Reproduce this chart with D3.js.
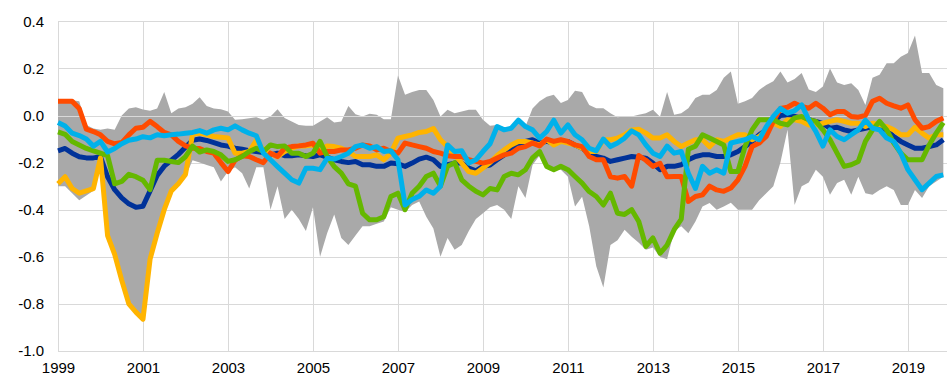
<!DOCTYPE html>
<html>
<head>
<meta charset="utf-8">
<script src="https://cdn.jsdelivr.net/npm/d3@7"></script>
<style>
  html, body { margin: 0; padding: 0; background: #fff; }
  svg { display: block; font-family: "Liberation Sans", Arial, sans-serif; }
</style>
</head>
<body>
<svg id="chart" width="947" height="378"></svg>
<script>
// Observations every two months, starting January 1999
const startYear = 1999;
const stepMonths = 2;

const xTickYears = [1999, 2001, 2003, 2005, 2007, 2009, 2011, 2013, 2015, 2017, 2019];
const yTickValues = [-1.0, -0.8, -0.6, -0.4, -0.2, 0.0, 0.2, 0.4];
const yTickLabels = ["-1.0", "-0.8", "-0.6", "-0.4", "-0.2", "0.0", "0.2", "0.4"];

// Range across countries (upper and lower bound)
const rangeMax = [
  0.065, 0.065, 0.065, 0.06, -0.04, -0.055,
  -0.06, -0.055, -0.06, 0.0, 0.03, 0.035,
  0.025, 0.02, 0.03, 0.10, 0.01, 0.03,
  0.035, 0.05, 0.078, 0.04, 0.03, 0.027,
  0.017, -0.018, -0.016, -0.012, -0.007, -0.018,
  -0.004, 0.027, -0.011, -0.025, -0.04, -0.044,
  -0.044, -0.025, -0.007, -0.03, -0.025, 0.04,
  0.005, -0.004, 0.007, 0.003, -0.016, -0.016,
  0.17, 0.088, 0.1, 0.108, 0.108, 0.066,
  -0.004, 0.024, 0.01, 0.017, 0.024, 0.024,
  -0.018, -0.044, -0.04, -0.05, -0.05, -0.01,
  -0.05, 0.03, 0.06, 0.08, 0.088, 0.053,
  0.066, 0.105, 0.1, 0.045, 0.031, 0.031,
  0.01, -0.007, -0.004, -0.004, 0.003, 0.01,
  0.024, -0.005, 0.1, 0.003, 0.01, 0.031,
  0.074, 0.088, 0.088, 0.108, 0.16, 0.187,
  0.05, 0.06, 0.074, 0.108, 0.13, 0.145,
  0.187, 0.14, 0.155, 0.18, 0.11, 0.1,
  0.123, 0.2, 0.14, 0.13, 0.137, 0.108,
  0.045, 0.16, 0.173, 0.222, 0.222, 0.25,
  0.265, 0.34, 0.18, 0.18, 0.13, 0.116
];
const rangeMin = [
  -0.30, -0.30, -0.33, -0.36, -0.34, -0.32,
  -0.20, -0.52, -0.60, -0.71, -0.81, -0.84,
  -0.87, -0.62, -0.51, -0.41, -0.33, -0.30,
  -0.26, -0.19, -0.20, -0.21, -0.22, -0.28,
  -0.19, -0.22, -0.245, -0.31, -0.22, -0.22,
  -0.40, -0.30, -0.44, -0.40, -0.44, -0.49,
  -0.39, -0.60, -0.50, -0.42, -0.52, -0.55,
  -0.51, -0.47, -0.47, -0.46, -0.45, -0.39,
  -0.40, -0.41, -0.38, -0.365, -0.43, -0.48,
  -0.60, -0.52, -0.57, -0.55, -0.49, -0.44,
  -0.415, -0.39, -0.38, -0.40, -0.44, -0.30,
  -0.35, -0.21, -0.17, -0.215, -0.23, -0.23,
  -0.26, -0.386, -0.345, -0.47, -0.64, -0.73,
  -0.55, -0.53, -0.485, -0.515, -0.54, -0.57,
  -0.56, -0.60, -0.61, -0.49, -0.47, -0.50,
  -0.45, -0.386, -0.372, -0.40, -0.386, -0.37,
  -0.40, -0.40, -0.40, -0.36, -0.33, -0.30,
  -0.20, -0.06, -0.38, -0.30, -0.285, -0.23,
  -0.26, -0.337, -0.287, -0.273, -0.337, -0.26,
  -0.33, -0.337, -0.316, -0.30, -0.316, -0.38,
  -0.38, -0.316, -0.35, -0.30, -0.28, -0.26
];

const darkBlueValues = [
  -0.15, -0.14, -0.16, -0.175, -0.18, -0.18,
  -0.175, -0.26, -0.315, -0.35, -0.375, -0.39,
  -0.385, -0.32, -0.255, -0.215, -0.19, -0.165,
  -0.135, -0.105, -0.10, -0.106, -0.115, -0.125,
  -0.13, -0.139, -0.143, -0.149, -0.153, -0.157,
  -0.167, -0.16, -0.171, -0.171, -0.167, -0.171,
  -0.174, -0.167, -0.177, -0.188, -0.195, -0.20,
  -0.195, -0.209, -0.209, -0.216, -0.216, -0.202,
  -0.205, -0.216, -0.202, -0.185, -0.177, -0.188,
  -0.216, -0.209, -0.202, -0.202, -0.223, -0.235,
  -0.216, -0.21, -0.188, -0.167, -0.139, -0.125,
  -0.11, -0.103, -0.117, -0.11, -0.117, -0.11,
  -0.11, -0.125, -0.139, -0.16, -0.174, -0.181,
  -0.195, -0.188, -0.181, -0.174, -0.177, -0.181,
  -0.202, -0.23, -0.216, -0.216, -0.209, -0.188,
  -0.174, -0.167, -0.167, -0.174, -0.174, -0.167,
  -0.153, -0.132, -0.11, -0.082, -0.061, -0.025,
  0.0, 0.003, -0.004, -0.011, -0.018, -0.025,
  -0.035, -0.054, -0.05, -0.061, -0.068, -0.061,
  -0.054, -0.047, -0.047, -0.061, -0.089, -0.11,
  -0.125, -0.139, -0.139, -0.132, -0.125, -0.103
];
const yellowValues = [
  -0.29, -0.26, -0.31, -0.33, -0.32, -0.31,
  -0.18, -0.51, -0.59, -0.70, -0.80, -0.835,
  -0.865, -0.61, -0.50, -0.40, -0.32, -0.29,
  -0.25, -0.08, -0.075, -0.082, -0.089, -0.092,
  -0.095, -0.16, -0.16, -0.153, -0.105, -0.145,
  -0.16, -0.175, -0.153, -0.139, -0.129, -0.129,
  -0.125, -0.15, -0.129, -0.132, -0.139, -0.153,
  -0.174, -0.174, -0.174, -0.167, -0.188, -0.16,
  -0.096, -0.089, -0.082, -0.072, -0.068, -0.055,
  -0.103, -0.132, -0.167, -0.202, -0.238, -0.245,
  -0.223, -0.2, -0.17, -0.146, -0.125, -0.11,
  -0.11, -0.117, -0.125, -0.103, -0.125, -0.11,
  -0.117, -0.125, -0.139, -0.153, -0.153, -0.103,
  -0.103, -0.096, -0.082, -0.061, -0.058, -0.075,
  -0.096, -0.096, -0.082, -0.11, -0.132, -0.117,
  -0.103, -0.103, -0.132, -0.103, -0.11, -0.096,
  -0.082, -0.082, -0.103, -0.089, -0.061, -0.033,
  -0.047, -0.018, -0.018, -0.025, -0.04, -0.04,
  -0.033, -0.025, -0.018, -0.025, -0.033, -0.033,
  -0.047, -0.033, -0.04, -0.047, -0.061, -0.082,
  -0.082, -0.05, -0.075, -0.096, -0.082, -0.082
];
const orangeValues = [
  0.06, 0.06, 0.06, 0.03, -0.058, -0.068,
  -0.082, -0.11, -0.12, -0.115, -0.082, -0.054,
  -0.05, -0.025, -0.047, -0.072, -0.082, -0.11,
  -0.129, -0.139, -0.14, -0.153, -0.16, -0.2,
  -0.238, -0.19, -0.171, -0.174, -0.188, -0.2,
  -0.16, -0.174, -0.139, -0.132, -0.129, -0.125,
  -0.118, -0.16, -0.153, -0.153, -0.146, -0.146,
  -0.139, -0.125, -0.129, -0.146, -0.139, -0.153,
  -0.16, -0.117, -0.125, -0.132, -0.139, -0.153,
  -0.16, -0.171, -0.174, -0.174, -0.188, -0.195,
  -0.202, -0.195, -0.181, -0.167, -0.16, -0.139,
  -0.132, -0.117, -0.129, -0.1, -0.11, -0.103,
  -0.11, -0.125, -0.132, -0.174, -0.188, -0.188,
  -0.26, -0.266, -0.259, -0.30, -0.17, -0.19,
  -0.216, -0.203, -0.26, -0.259, -0.259, -0.365,
  -0.344, -0.337, -0.30, -0.316, -0.322, -0.308,
  -0.273, -0.216, -0.132, -0.117, -0.089, -0.025,
  0.03, 0.035, 0.052, 0.038, 0.031, 0.052,
  0.031, 0.003, 0.017, 0.017, -0.004, -0.007,
  0.0, 0.06, 0.073, 0.052, 0.041, 0.031,
  0.045, -0.018, -0.054, -0.047, -0.025, -0.011
];
const greenValues = [
  -0.07, -0.08, -0.11, -0.125, -0.14, -0.15,
  -0.16, -0.17, -0.29, -0.28, -0.25, -0.26,
  -0.275, -0.315, -0.19, -0.19, -0.195, -0.2,
  -0.175, -0.13, -0.155, -0.146, -0.153, -0.167,
  -0.195, -0.188, -0.174, -0.153, -0.139, -0.153,
  -0.125, -0.132, -0.129, -0.16, -0.16, -0.174,
  -0.16, -0.11, -0.174, -0.217, -0.245, -0.29,
  -0.30, -0.415, -0.443, -0.443, -0.43, -0.344,
  -0.33, -0.40, -0.33, -0.30, -0.259, -0.245,
  -0.30, -0.216, -0.20, -0.273, -0.30, -0.322,
  -0.337, -0.31, -0.316, -0.259, -0.245, -0.252,
  -0.23, -0.18, -0.153, -0.216, -0.23, -0.216,
  -0.23, -0.259, -0.287, -0.323, -0.344, -0.38,
  -0.33, -0.415, -0.42, -0.40, -0.45, -0.556,
  -0.52, -0.585, -0.55, -0.485, -0.44, -0.143,
  -0.13, -0.082, -0.096, -0.11, -0.125, -0.238,
  -0.238, -0.132, -0.061, -0.018, -0.018, -0.018,
  -0.033, -0.04, -0.01, -0.004, -0.018, -0.025,
  -0.061, -0.103, -0.16, -0.216, -0.209, -0.195,
  -0.11, -0.061, -0.025, -0.061, -0.117, -0.16,
  -0.188, -0.188, -0.188, -0.125, -0.075, -0.03
];
const cyanValues = [
  -0.03, -0.045, -0.075, -0.085, -0.10, -0.13,
  -0.11, -0.155, -0.14, -0.12, -0.105, -0.10,
  -0.09, -0.095, -0.082, -0.086, -0.082, -0.079,
  -0.075, -0.072, -0.064, -0.075, -0.061, -0.054,
  -0.061, -0.044, -0.061, -0.075, -0.086, -0.16,
  -0.188, -0.217, -0.245, -0.273, -0.287, -0.224,
  -0.224, -0.23, -0.182, -0.185, -0.174, -0.16,
  -0.132, -0.125, -0.139, -0.132, -0.153, -0.15,
  -0.188, -0.38, -0.357, -0.343, -0.316, -0.33,
  -0.30, -0.125, -0.153, -0.15, -0.202, -0.188,
  -0.153, -0.12, -0.047, -0.061, -0.054, -0.02,
  -0.047, -0.061, -0.096, -0.068, -0.02, -0.075,
  -0.04, -0.082, -0.103, -0.139, -0.15, -0.1,
  -0.132, -0.117, -0.096, -0.065, -0.082, -0.125,
  -0.16, -0.174, -0.13, -0.16, -0.153, -0.245,
  -0.31, -0.216, -0.245, -0.23, -0.245, -0.117,
  -0.11, -0.103, -0.089, -0.103, -0.047, -0.004,
  0.03, 0.01, 0.02, 0.045, -0.018, -0.068,
  -0.13, -0.061, -0.089, -0.103, -0.082, -0.061,
  -0.02, -0.054, -0.061, -0.096, -0.11, -0.16,
  -0.23, -0.273, -0.315, -0.287, -0.259, -0.252
];

const lineSeries = [
  { values: darkBlueValues, color: "#003299" },
  { values: yellowValues,   color: "#FFB400" },
  { values: orangeValues,   color: "#FF4B00" },
  { values: greenValues,    color: "#65B800" },
  { values: cyanValues,     color: "#00B1EA" }
];

const width = 947, height = 378;
const svg = d3.select("#chart");

const x = d3.scaleLinear().domain([1999, 2019.92]).range([58, 947]);
const y = d3.scaleLinear().domain([-1.0, 0.4]).range([351, 21.3]);

const dateOf = i => startYear + (i * stepMonths) / 12;

// Gridlines
const grid = svg.append("g").attr("class", "grid");
grid.selectAll("line.h")
  .data(yTickValues)
  .join("line")
  .attr("class", "h")
  .attr("x1", x(1999)).attr("x2", width)
  .attr("y1", d => Math.round(y(d)) + 0.5)
  .attr("y2", d => Math.round(y(d)) + 0.5)
  .attr("stroke", "#d9d9d9").attr("stroke-width", 1);
grid.selectAll("line.v")
  .data(xTickYears)
  .join("line")
  .attr("class", "v")
  .attr("x1", d => Math.round(x(d)) + 0.5)
  .attr("x2", d => Math.round(x(d)) + 0.5)
  .attr("y1", y(0.4)).attr("y2", y(-1.0))
  .attr("stroke", "#d9d9d9").attr("stroke-width", 1);

// Cross-country range band (envelope also covers the plotted countries)
const band = rangeMax.map((hi, i) => {
  const vals = lineSeries.map(s => s.values[i]);
  return {
    t: dateOf(i),
    lo: Math.min(rangeMin[i], d3.min(vals)),
    hi: Math.max(hi, d3.max(vals))
  };
});
svg.append("path")
  .datum(band)
  .attr("fill", "#a9a9a9")
  .attr("d", d3.area()
    .x(d => x(d.t))
    .y0(d => y(d.lo))
    .y1(d => y(d.hi)));

// Zero axis line over the band
svg.append("line")
  .attr("x1", x(1999)).attr("x2", width)
  .attr("y1", Math.round(y(0)) + 0.5).attr("y2", Math.round(y(0)) + 0.5)
  .attr("stroke", "#d9d9d9").attr("stroke-width", 1);

// Country lines
const line = d3.line()
  .x((d, i) => x(dateOf(i)))
  .y(d => y(d));
svg.append("g")
  .selectAll("path")
  .data(lineSeries)
  .join("path")
  .attr("fill", "none")
  .attr("stroke", d => d.color)
  .attr("stroke-width", 5)
  .attr("stroke-linejoin", "round")
  .attr("stroke-linecap", "butt")
  .attr("d", d => line(d.values));

// Axes
const yAxis = d3.axisLeft(y)
  .tickValues(yTickValues)
  .tickFormat((d, i) => yTickLabels[i])
  .tickSize(0)
  .tickPadding(0);
svg.append("g")
  .attr("transform", "translate(44,0)")
  .call(yAxis)
  .call(g => g.select(".domain").remove())
  .call(g => g.selectAll("text")
    .attr("font-size", 15)
    .attr("font-family", "'Liberation Sans', Arial, sans-serif")
    .attr("fill", "#000"));

const xAxis = d3.axisBottom(x)
  .tickValues(xTickYears)
  .tickFormat(d => String(d))
  .tickSize(0)
  .tickPadding(0);
svg.append("g")
  .attr("transform", "translate(0,362)")
  .call(xAxis)
  .call(g => g.select(".domain").remove())
  .call(g => g.selectAll("text")
    .attr("font-size", 15)
    .attr("font-family", "'Liberation Sans', Arial, sans-serif")
    .attr("fill", "#000"));
</script>
</body>
</html>
